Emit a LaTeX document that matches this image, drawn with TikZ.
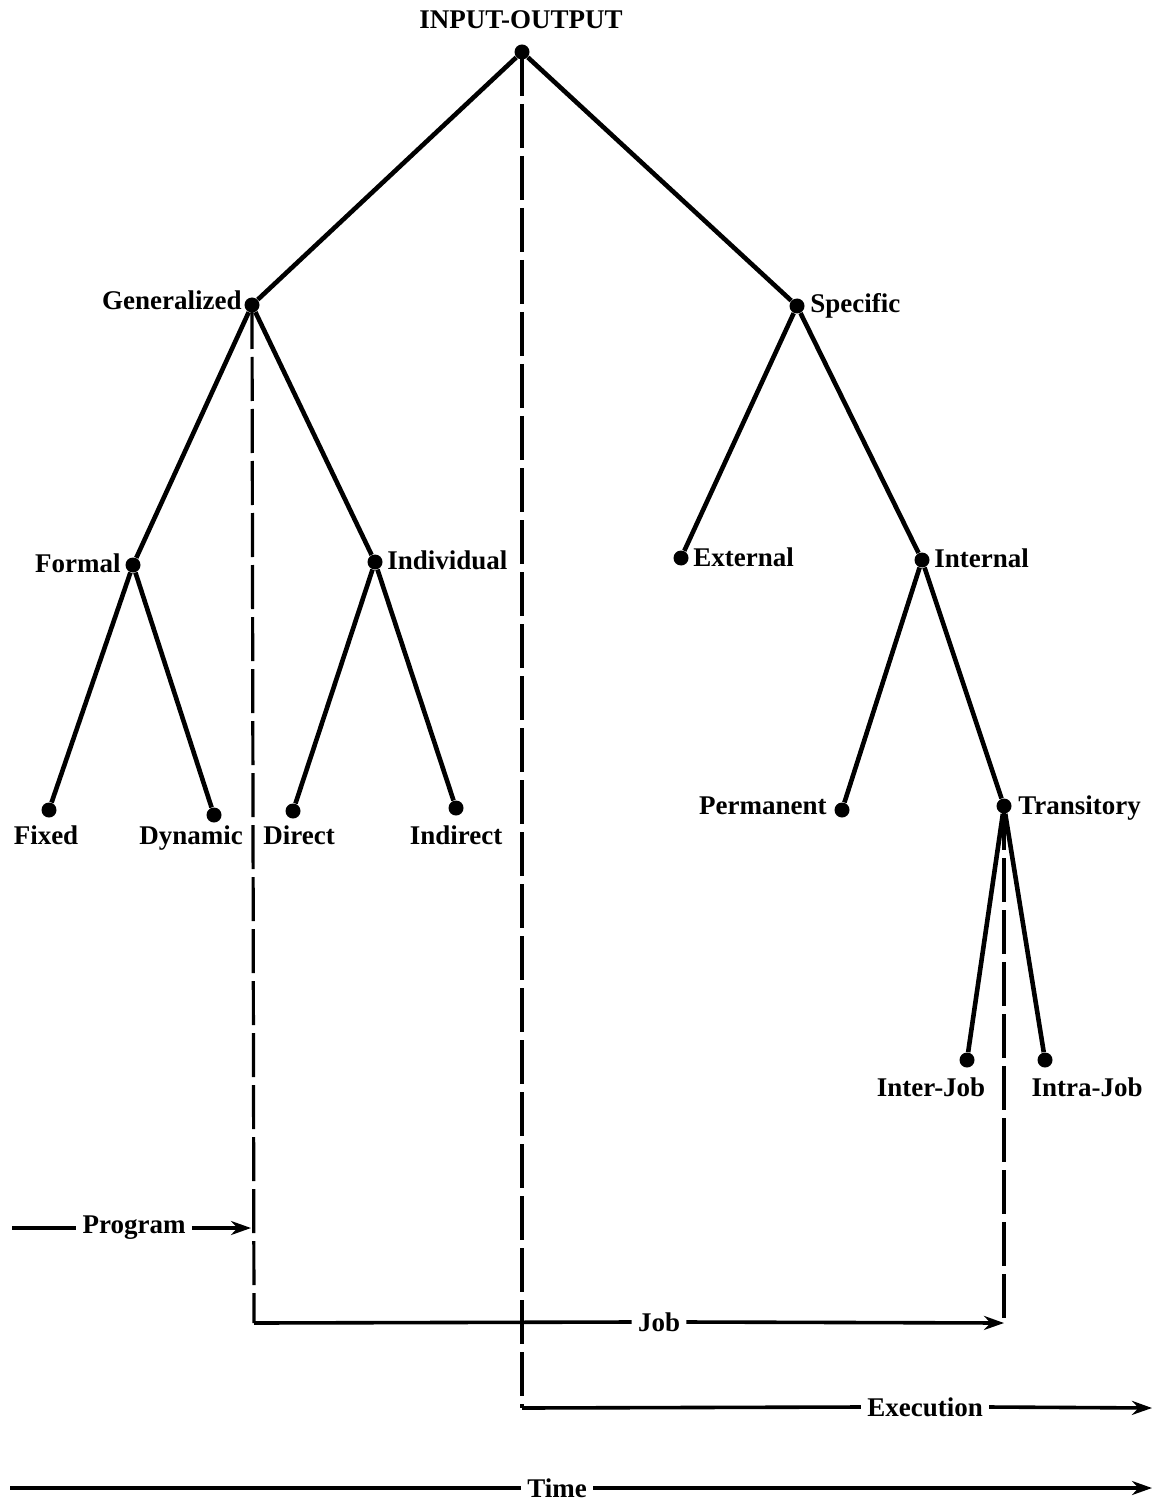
\documentclass[tikz,border=0pt]{standalone}
\usepackage{fontspec}
\setmainfont{Liberation Serif}
\usetikzlibrary{arrows.meta}
\begin{document}
\begin{tikzpicture}[x=0.5pt,y=-0.5pt,
  dot/.style={circle,fill=black,inner sep=0pt,minimum size=7.5pt},
  txt/.style={font=\fontsize{13.5}{16}\selectfont\bfseries,inner sep=0pt},
  lbl/.style={txt,inner xsep=3pt},
  branch/.style={line width=2.3pt},
  track/.style={line width=1.6pt,dash pattern=on 22pt off 4pt},
  flow/.style={line width=1.8pt},
  tip/.style={-{Stealth[length=10pt,width=7pt]}}]
\useasboundingbox (0,0) rectangle (1161,1502);

% tree nodes
\node[dot] (io)  at (522,52) {};
\node[dot] (gen) at (252,305) {};
\node[dot] (spe) at (797,306) {};
\node[dot] (frm) at (133,565) {};
\node[dot] (ind) at (375,562) {};
\node[dot] (ext) at (681,558) {};
\node[dot] (int) at (922,560) {};
\node[dot] (fix) at (49,810) {};
\node[dot] (dyn) at (214,815) {};
\node[dot] (dir) at (293,811) {};
\node[dot] (idr) at (456,808) {};
\node[dot] (per) at (842,810) {};
\node[dot] (tra) at (1004,806) {};
\node[dot] (inj) at (967,1060) {};
\node[dot] (itj) at (1045,1060) {};

% node labels
\node[txt,anchor=base] (tio)  at (521,29) {INPUT-OUTPUT};
\node[txt,anchor=base east] (tgen) at (242,310) {Generalized};
\node[txt,anchor=base west] (tspe) at (810,313) {Specific};
\node[txt,anchor=base east] (tfrm) at (121,572) {Formal};
\node[txt,anchor=base west] (tind) at (387,569) {Individual};
\node[txt,anchor=base west] (text) at (693,566) {External};
\node[txt,anchor=base west] (tint) at (934,567) {Internal};
\node[txt,anchor=base] (tfix) at (46,844) {Fixed};
\node[txt,anchor=base] (tdyn) at (191,844) {Dynamic};
\node[txt,anchor=base] (tdir) at (299,844) {Direct};
\node[txt,anchor=base] (tidr) at (456,844) {Indirect};
\node[txt,anchor=base east] (tper) at (827,814) {Permanent};
\node[txt,anchor=base west] (ttra) at (1018,814) {Transitory};
\node[txt,anchor=base] (tinj) at (931,1096) {Inter-Job};
\node[txt,anchor=base] (titj) at (1087,1096) {Intra-Job};

% tree branches
\draw[branch] (io) -- (gen);
\draw[branch] (io) -- (spe);
\draw[branch] (gen) -- (frm);
\draw[branch] (gen) -- (ind);
\draw[branch] (spe) -- (ext);
\draw[branch] (spe) -- (int);
\draw[branch] (frm) -- (fix);
\draw[branch] (frm) -- (dyn);
\draw[branch] (ind) -- (dir);
\draw[branch] (ind) -- (idr);
\draw[branch] (int) -- (per);
\draw[branch] (int) -- (tra);
\draw[branch] (tra) -- (inj);
\draw[branch] (tra) -- (itj);

% time scales
\coordinate (prgL) at (12,1228);
\coordinate (prgR) at (251,1228);
\coordinate (jobL) at (254,1323);
\coordinate (jobR) at (1004,1323);
\coordinate (exeL) at (522,1408);
\coordinate (exeR) at (1152,1408);
\coordinate (timL) at (10,1488);
\coordinate (timR) at (1152,1488);

\node[lbl] (prg) at (134,1228) {Program};
\node[lbl] (job) at (659,1322) {Job};
\node[lbl] (exe) at (925,1407) {Execution};
\node[lbl] (tim) at (557,1488) {Time};

% dashed drops
\draw[track] (gen.center) -- (jobL);
\draw[track] (io.center) -- (exeL);
\draw[track] (tra.center) -- (jobR);

% horizontal arrows
\draw[flow] (prgL) -- (prg.west);
\draw[flow,tip] (prg.east) -- (prgR);
\draw[flow] (jobL) -- (job.west);
\draw[flow,tip] (job.east) -- (jobR);
\draw[flow] (exeL) -- (exe.west);
\draw[flow,tip] (exe.east) -- (exeR);
\draw[flow] (timL) -- (tim.west);
\draw[flow,tip] (tim.east) -- (timR);
\end{tikzpicture}
\end{document}
